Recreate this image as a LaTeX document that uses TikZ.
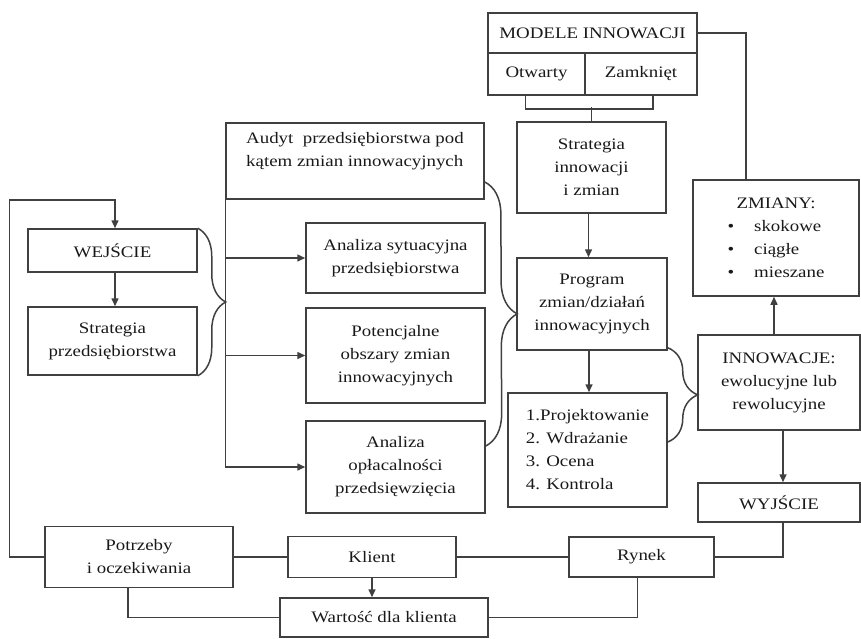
\documentclass[tikz,border=0pt]{standalone}
\usepackage{fontspec}
\setmainfont[FakeStretch=1.18]{Liberation Serif}
\usetikzlibrary{arrows.meta,decorations.pathreplacing}

\begin{document}
\begin{tikzpicture}[x=1pt,y=-1pt,
    box/.style 2 args={draw=black!75, line width=1.5pt, minimum width=#1pt,
      minimum height=#2pt, inner sep=0pt, align=center, text=black!90,
      font=\fontsize{16}{23}\selectfont},
    link/.style={draw=black!75, line width=1.5pt},
    arrow/.style={link, -{Triangle[length=8pt,width=7pt]}},
    curly/.style={link, decorate, decoration={brace, amplitude=#1pt}}]

    \useasboundingbox (0,0) rectangle (861,638);

    % Innovation models
    \node[box={209}{40}] (modele) at (592.5,33) {MODELE INNOWACJI};
    \node[box={97}{42}] (otwarty) at (536.5,74) {Otwarty};
    \node[box={112}{42}] (zamkniet) at (641,74) {Zamknięt};
    \node[box={149}{91}] (strinn) at (591.5,167.5) {Strategia\\innowacji\\i zmian};
    \node[box={150}{92}] (program) at (592,304) {Program\\zmian/działań\\innowacyjnych};
    \node[box={159}{114}, align=left] (etapy) at (587.5,450)
      {1.Projektowanie\\2. Wdrażanie\\3. Ocena\\4. Kontrola};

    % Changes and innovations
    \node[box={166}{116}] (zmiany) at (776,238)
      {\begin{tabular}{@{}l@{\hspace{20pt}}l@{}}
        \multicolumn{2}{@{}c@{}}{ZMIANY:}\\
        \textbullet & skokowe\\
        \textbullet & ciągłe\\
        \textbullet & mieszane
      \end{tabular}};
    \node[box={162}{95}] (innow) at (779,382.5) {INNOWACJE:\\ewolucyjne lub\\rewolucyjne};
    \node[box={162}{39}] (wyjscie) at (779,502.5) {WYJŚCIE};

    % Input side
    \node[box={169}{43}] (wejscie) at (112.5,250.5) {WEJŚCIE};
    \node[box={169}{68}] (strprz) at (112.5,341) {Strategia\\przedsiębiorstwa};
    \node[box={258}{76}, align=left] (audyt) at (355,161)
      {Audyt\ \ przedsiębiorstwa pod\\kątem zmian innowacyjnych\\ \mbox{}};
    \node[box={179}{70}] (sytuac) at (395.5,258) {Analiza sytuacyjna\\przedsiębiorstwa};
    \node[box={179}{95}] (potenc) at (395.5,355.5) {Potencjalne\\obszary zmian\\innowacyjnych};
    \node[box={179}{92}] (oplac) at (395.5,467) {Analiza\\opłacalności\\przedsięwzięcia};

    % Market row
    \node[box={188}{61}] (potrzeby) at (139,557) {Potrzeby\\i oczekiwania};
    \node[box={168}{41}] (klient) at (372,557) {Klient};
    \node[box={145}{40}] (rynek) at (641.5,557) {Rynek};
    \node[box={208}{39}] (wartosc) at (384,617.5) {Wartość dla klienta};

    % Connectors
    \draw[link] ([xshift=-11]otwarty.south) -- ++(0,13) -| ([xshift=12]zamkniet.south);
    \draw[link] (strinn.north) -- ++(0,-14);
    \draw[link] (modele.east) -| ([xshift=-30]zmiany.north);
    \draw[arrow] ([xshift=-3]strinn.south) -- ([xshift=-3]strinn.south |- program.north);
    \draw[arrow] ([xshift=-3]program.south) -- ([xshift=-3]program.south |- etapy.north);
    \draw[arrow] ([xshift=-5]innow.north) -- ([xshift=-5]innow.north |- zmiany.south);
    \draw[arrow] ([xshift=4]innow.south) -- ([xshift=4]innow.south |- wyjscie.north);
    \draw[link] ([xshift=4]wyjscie.south) |- (rynek.east);
    \draw[link] (potrzeby) -- (klient);
    \draw[link] (klient) -- (rynek);
    \draw[arrow] (klient.south) -- (klient.south |- wartosc.north);
    \draw[link] ([xshift=-11]potrzeby.south) |- (wartosc.west);
    \draw[link] (wartosc.east) -| ([xshift=-4]rynek.south);
    \draw[arrow] (potrzeby.west) -- ++(-35,0) |- ([xshift=2.5]wejscie.north |- audyt.south)
      -- ([xshift=2.5]wejscie.north);
    \draw[arrow] ([xshift=2.5]wejscie.south) -- ([xshift=2.5]wejscie.south |- strprz.north);
    \draw[arrow] (audyt.south west) |- (oplac.west);
    \foreach \n in {sytuac,potenc}
      \draw[arrow] (audyt.south west |- \n.west) -- (\n.west);

    % Braces
    \draw[curly=28] (wejscie.north east) -- (strprz.south east);
    \draw[curly=32] ([yshift=-21]audyt.east) -- ([yshift=21]oplac.east);
    \draw[curly=30] ([yshift=3]program.south east) -- ([yshift=8]etapy.east);
\end{tikzpicture}
\end{document}
